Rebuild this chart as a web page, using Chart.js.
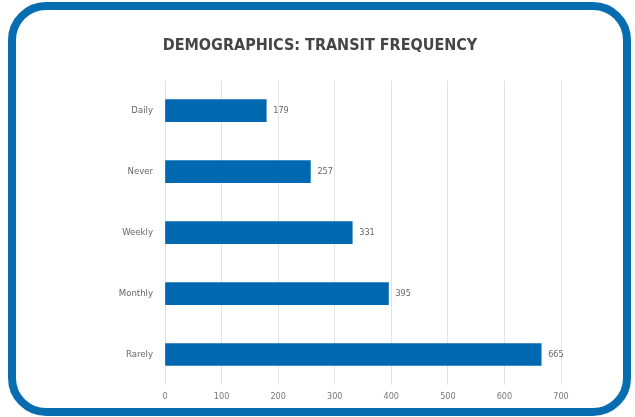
<!DOCTYPE html>
<html>
<head>
<meta charset="utf-8">
<script src="https://cdn.jsdelivr.net/npm/chart.js@4"></script>
<style>
  html, body { margin: 0; padding: 0; background: #fff; }
  #frame {
    position: absolute; left: 8px; top: 2px;
    width: 623px; height: 414px;
    box-sizing: border-box;
    border: 8px solid #066db1;
    border-radius: 38px;
  }
  #wrap { position: absolute; left: 0; top: 0; width: 635px; height: 417px; }
</style>
</head>
<body>
<div id="frame"></div>
<div id="wrap"><canvas id="transit-chart"></canvas></div>
<script>
var categories = ['Daily', 'Never', 'Weekly', 'Monthly', 'Rarely'];
var counts = [179, 257, 331, 395, 665];
var xTicks = [0, 100, 200, 300, 400, 500, 600, 700];

var fontFam = "'DejaVu Sans Condensed', 'DejaVu Sans', sans-serif";

// draws the number just right of each bar
var valueLabels = {
    id: 'valueLabels',
    afterDatasetsDraw: function (chart) {
        var ctx = chart.ctx;
        var meta = chart.getDatasetMeta(0);
        ctx.save();
        ctx.font = '9px ' + fontFam;
        ctx.fillStyle = '#666';
        ctx.textAlign = 'left';
        ctx.textBaseline = 'middle';
        meta.data.forEach(function (bar, i) {
            ctx.fillText(counts[i], bar.x + 7, bar.y);
        });
        ctx.restore();
    }
};

var transitChart = new Chart(document.getElementById('transit-chart'), {
    type: 'bar',
    data: {
        labels: categories,
        datasets: [{
            data: counts,
            backgroundColor: '#0068b0',
            barThickness: 22
        }]
    },
    options: {
        indexAxis: 'y',
        responsive: true,
        maintainAspectRatio: false,
        animation: false,
        layout: {
            padding: { left: 79, right: 74, top: 36, bottom: 12 }
        },
        plugins: {
            legend: { display: false },
            tooltip: { enabled: false },
            title: {
                display: true,
                text: 'DEMOGRAPHICS: TRANSIT FREQUENCY',
                color: '#454545',
                font: { family: fontFam, size: 16, weight: 'bold' },
                padding: { top: 0, bottom: 25 }
            }
        },
        scales: {
            x: {
                min: 0,
                max: 700,
                afterBuildTicks: function (scale) {
                    scale.ticks = xTicks.map(function (v) { return { value: v }; });
                },
                afterFit: function (scale) { scale.height = 20; },
                grid: { color: '#e3e3e3', drawTicks: false },
                border: { display: false },
                ticks: {
                    color: '#777',
                    padding: 6,
                    font: { family: fontFam, size: 9 }
                }
            },
            y: {
                afterFit: function (scale) { scale.width = 86; },
                grid: { display: false, drawTicks: false },
                border: { display: false },
                ticks: {
                    color: '#666',
                    padding: 12,
                    font: { family: fontFam, size: 9.5 }
                }
            }
        }
    },
    plugins: [valueLabels]
});
</script>
</body>
</html>
